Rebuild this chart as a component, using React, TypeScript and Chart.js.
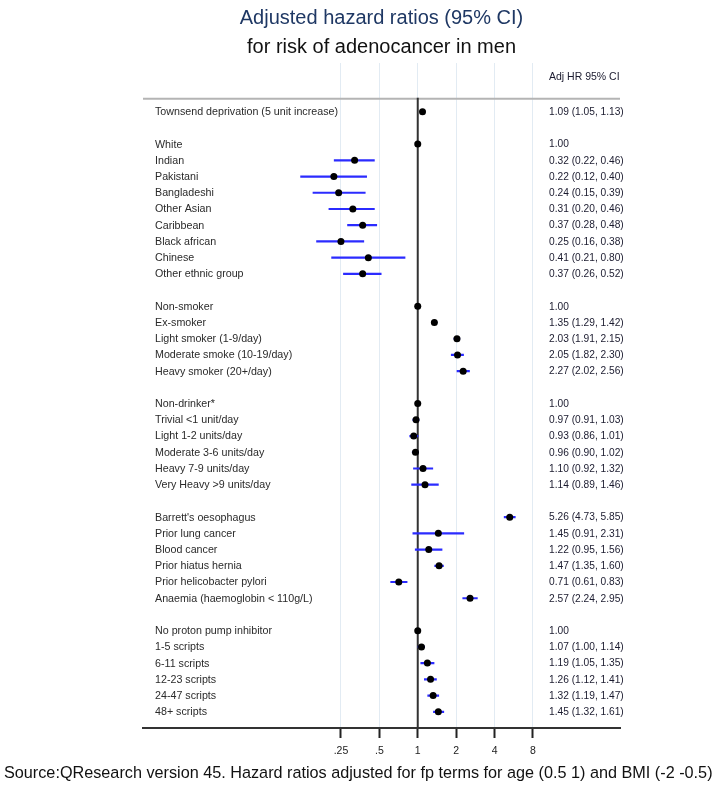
import React, { useEffect, useRef } from "react";
import { Chart, registerables } from "chart.js";

Chart.register(...registerables);

const labels = [
  "Townsend deprivation (5 unit increase)", "",
  "White", "Indian", "Pakistani", "Bangladeshi", "Other Asian", "Caribbean", "Black african", "Chinese", "Other ethnic group", "",
  "Non-smoker", "Ex-smoker", "Light smoker (1-9/day)", "Moderate smoke (10-19/day)", "Heavy smoker (20+/day)", "",
  "Non-drinker*", "Trivial <1 unit/day", "Light 1-2 units/day", "Moderate 3-6 units/day", "Heavy 7-9 units/day", "Very Heavy >9 units/day", "",
  "Barrett's oesophagus", "Prior lung cancer", "Blood cancer", "Prior hiatus hernia", "Prior helicobacter pylori", "Anaemia (haemoglobin < 110g/L)", "",
  "No proton pump inhibitor", "1-5 scripts", "6-11 scripts", "12-23 scripts", "24-47 scripts", "48+ scripts",
];

const hr = [
  1.09, null,
  1.0, 0.32, 0.22, 0.24, 0.31, 0.37, 0.25, 0.41, 0.37, null,
  1.0, 1.35, 2.03, 2.05, 2.27, null,
  1.0, 0.97, 0.93, 0.96, 1.1, 1.14, null,
  5.26, 1.45, 1.22, 1.47, 0.71, 2.57, null,
  1.0, 1.07, 1.19, 1.26, 1.32, 1.45,
];

const lo = [
  1.05, null,
  null, 0.22, 0.12, 0.15, 0.2, 0.28, 0.16, 0.21, 0.26, null,
  null, 1.29, 1.91, 1.82, 2.02, null,
  null, 0.91, 0.86, 0.9, 0.92, 0.89, null,
  4.73, 0.91, 0.95, 1.35, 0.61, 2.24, null,
  null, 1.0, 1.05, 1.12, 1.19, 1.32,
];

const hi = [
  1.13, null,
  null, 0.46, 0.4, 0.39, 0.46, 0.48, 0.38, 0.8, 0.52, null,
  null, 1.42, 2.15, 2.3, 2.56, null,
  null, 1.03, 1.01, 1.02, 1.32, 1.46, null,
  5.85, 2.31, 1.56, 1.6, 0.83, 2.95, null,
  null, 1.14, 1.35, 1.41, 1.47, 1.61,
];

const xTicks = [0.25, 0.5, 1, 2, 4, 8];

const titleLine1 = "Adjusted hazard ratios (95% CI)";
const titleLine2 = "for risk of adenocancer in men";
const columnHeader = "Adj HR 95% CI";
const footnote =
  "Source:QResearch version 45. Hazard ratios adjusted for fp terms for age (0.5 1) and BMI (-2 -0.5)";

const FONT = "'Liberation Sans', Arial, sans-serif";

function fmt(v: number) {
  return v.toFixed(2);
}

const overlayPlugin = {
  id: "overlay",
  beforeDatasetsDraw(chart: any) {
    const ctx = chart.ctx;
    const { left, right, bottom } = chart.chartArea;
    const ys = chart.scales.y;
    const xs = chart.scales.x;
    const topY = ys.getPixelForValue(-0.8);
    ctx.save();
    ctx.strokeStyle = "#b4b4b4";
    ctx.lineWidth = 2;
    ctx.beginPath();
    ctx.moveTo(left, topY);
    ctx.lineTo(right, topY);
    ctx.stroke();
    const x1 = xs.getPixelForValue(1);
    ctx.strokeStyle = "#333333";
    ctx.lineWidth = 2;
    ctx.beginPath();
    ctx.moveTo(x1, topY - 1);
    ctx.lineTo(x1, bottom);
    ctx.stroke();
    ctx.restore();
  },
  afterDraw(chart: any) {
    const ctx = chart.ctx;
    const { left, right } = chart.chartArea;
    const ys = chart.scales.y;
    const cx = (left + right) / 2;
    ctx.save();
    // titles
    ctx.textAlign = "center";
    ctx.textBaseline = "middle";
    ctx.font = `20px ${FONT}`;
    ctx.fillStyle = "#1f3864";
    ctx.fillText(titleLine1, cx, 18);
    ctx.fillStyle = "#111111";
    ctx.fillText(titleLine2, cx, 47);

    // header
    ctx.textAlign = "left";
    ctx.font = `10.5px ${FONT}`;
    ctx.fillStyle = "#1a1a2e";
    const textX = left + 406;
    ctx.fillText(columnHeader, textX, ys.getPixelForValue(-2.1));

    // row labels and values
    for (let i = 0; i < labels.length; i++) {
      const y = ys.getPixelForValue(i) + 0.5;
      if (labels[i]) {
        ctx.font = `10.7px ${FONT}`;
        ctx.fillStyle = "#2a2a2a";
        ctx.fillText(labels[i], left + 12, y);
      }
      if (hr[i] != null) {
        const s =
          lo[i] != null ? `${fmt(hr[i] as number)} (${fmt(lo[i] as number)}, ${fmt(hi[i] as number)})` : fmt(hr[i] as number);
        ctx.font = `10.2px ${FONT}`;
        ctx.fillStyle = "#1a1a2e";
        ctx.fillText(s, textX, y);
      }
    }

    // footnote
    ctx.font = `15px ${FONT}`;
    const w = ctx.measureText(footnote).width;
    const size = (15 * 709) / w;
    ctx.font = `${size.toFixed(2)}px ${FONT}`;
    ctx.fillStyle = "#111111";
    ctx.fillText(footnote, 4, 774);
    ctx.restore();
  },
};

export default function App() {
  const ref = useRef<HTMLCanvasElement | null>(null);

  useEffect(() => {
    if (!ref.current) return;
    const points = hr
      .map((v, i) => (v != null ? { x: v, y: i } : null))
      .filter((p) => p != null);
    const ciData: any[] = [];
    hr.forEach((_, i) => {
      if (lo[i] != null && hi[i] != null) {
        ciData.push({ x: lo[i], y: i });
        ciData.push({ x: hi[i], y: i });
        ciData.push({ x: null, y: null });
      }
    });

    const chart = new Chart(ref.current, {
      type: "scatter",
      data: {
        datasets: [
          {
            label: "HR",
            data: points as any,
            pointRadius: 3.5,
            pointBackgroundColor: "#000000",
            pointBorderWidth: 0,
            pointBorderColor: "#000000",
            showLine: false,
          },
          {
            label: "CI",
            type: "line",
            data: ciData,
            borderColor: "#2b2bff",
            borderWidth: 2.2,
            pointRadius: 0,
            spanGaps: false,
            showLine: true,
          } as any,
        ],
      },
      options: {
        responsive: false,
        animation: false,
        events: [],
        layout: { padding: { left: 143, right: 97, top: 63, bottom: 0 } },
        plugins: {
          legend: { display: false },
          tooltip: { enabled: false },
          title: { display: false },
        },
        scales: {
          y: {
            type: "linear",
            display: false,
            reverse: true,
            min: -3,
            max: 38,
          },
          x: {
            type: "logarithmic",
            min: 0.00702,
            max: 38.5,
            afterBuildTicks: (scale: any) => {
              scale.ticks = xTicks.map((v) => ({ value: v }));
            },
            afterFit: (scale: any) => {
              scale.height = 62;
            },
            grid: {
              color: "#e2ebf3",
              lineWidth: 1,
              tickColor: "#222222",
              tickWidth: 2,
              tickLength: 10,
              drawTicks: true,
            },
            border: { color: "#333333", width: 2 },
            ticks: {
              autoSkip: false,
              maxRotation: 0,
              padding: 7,
              color: "#222222",
              font: { size: 10.5, family: FONT },
              callback: (v: any) => {
                const n = Number(v);
                return n < 1 ? String(n).replace(/^0/, "") : String(n);
              },
            },
          },
        },
      },
      plugins: [overlayPlugin],
    });
    return () => chart.destroy();
  }, []);

  return (
    <div style={{ position: "absolute", left: 0, top: 0, width: 717, height: 790, background: "#ffffff" }}>
      <canvas ref={ref} width={717} height={790} style={{ display: "block" }} />
    </div>
  );
}
